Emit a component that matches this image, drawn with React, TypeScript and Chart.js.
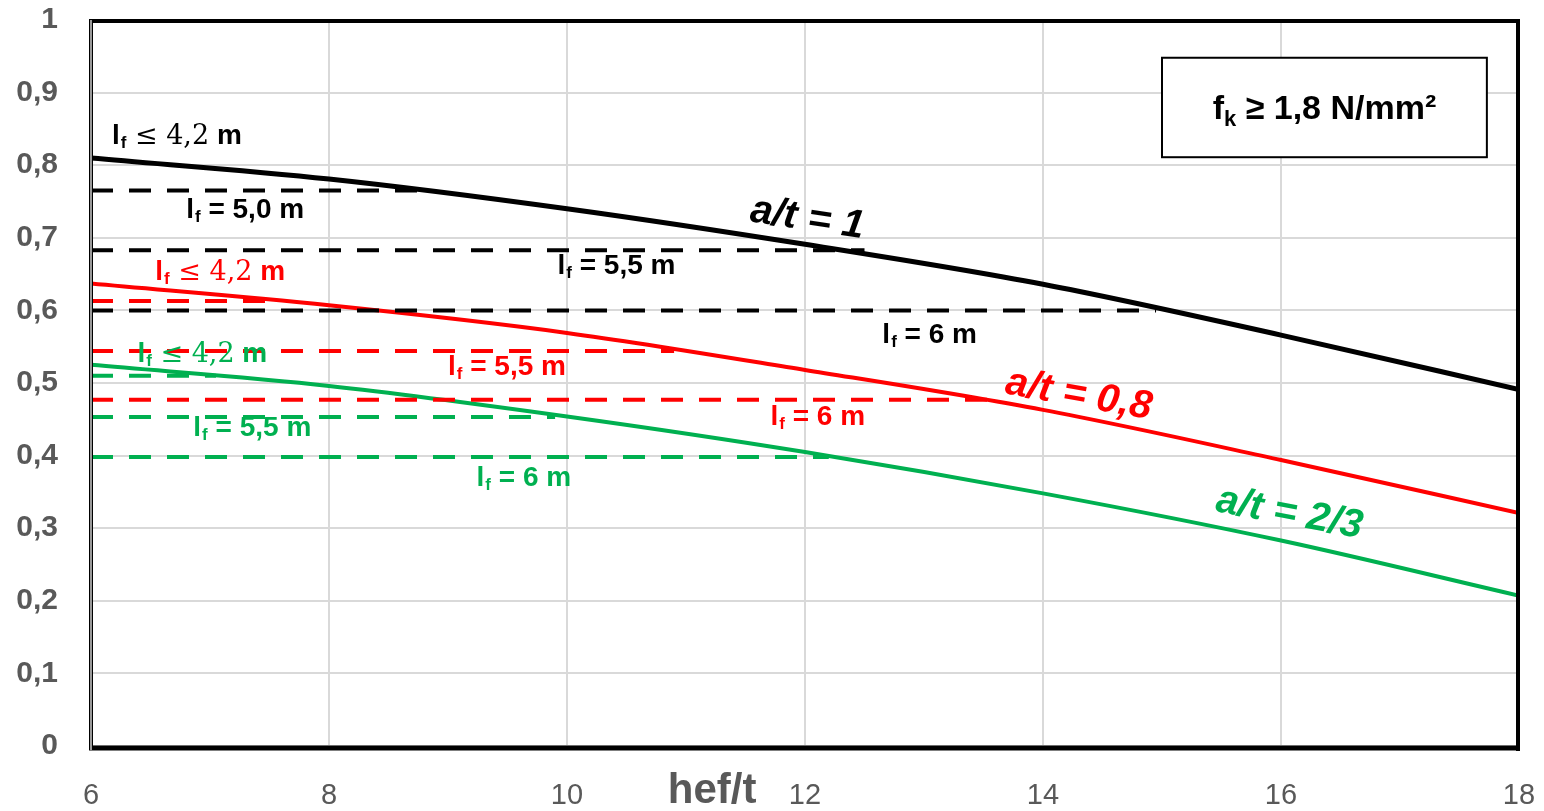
import React, { useEffect, useRef } from 'react';
import { Chart, registerables } from 'chart.js';
Chart.register(...registerables);

// ---- data ----
const hefT = [6, 8, 10, 12, 14, 16, 18];
const curveA1 = [0.81, 0.781, 0.74, 0.691, 0.636, 0.566, 0.491];
const curveA08 = [0.637, 0.607, 0.569, 0.518, 0.463, 0.394, 0.321];
const curveA23 = [0.525, 0.496, 0.454, 0.405, 0.348, 0.283, 0.207];

const blackDashLevels = [0.765, 0.683, 0.6];
const blackDashEnds = [8.8, 12.5, 14.95];
const redDashLevels = [0.613, 0.544, 0.477];
const redDashEnds = [7.55, 10.9, 13.55];
const greenDashLevels = [0.51, 0.453, 0.398];
const greenDashEnds = [7.05, 9.9, 12.2];

const xTickValues = [6, 8, 10, 12, 14, 16, 18];

const BLACK = '#000000';
const RED = '#FF0000';
const GREEN = '#00B050';
const GRAY_TXT = '#595959';

const lfLabelRest = [' ≤ 4,2', ' = 5,0 m', ' = 5,5 m', ' = 6 m', ' ≤ 4,2', ' = 5,5 m', ' = 6 m', ' ≤ 4,2', ' = 5,5 m', ' = 6 m'];
const lfLabelX = [6.176, 6.8, 9.92, 12.65, 6.54, 9.0, 11.71, 6.39, 6.86, 9.24];
const lfLabelY = [0.84, 0.738, 0.661, 0.566, 0.653, 0.521, 0.453, 0.54, 0.438, 0.369];
const lfLabelColor = [BLACK, BLACK, BLACK, BLACK, RED, RED, RED, GREEN, GREEN, GREEN];

const curveLabels = ['a/t = 1', 'a/t = 0,8', 'a/t = 2/3'];
const curveLabelX = [12.02, 14.3, 16.07];
const curveLabelY = [0.726, 0.483, 0.32];
const curveLabelAngle = [8.5, 10, 10.5];
const curveLabelColor = [BLACK, RED, GREEN];

const xAxisTitle = 'hef/t';
const boxText = { main: 'f', sub: 'k', rest: ' ≥ 1,8 N/mm²' };

function dashSet(levels: number[], ends: number[], color: string) {
  return levels.map((lv, i) => ({
    data: [
      { x: 6, y: lv },
      { x: ends[i], y: lv },
    ],
    borderColor: color,
    borderWidth: 4,
    borderDash: [22, 16],
    pointRadius: 0,
    fill: false,
  }));
}

function solidSet(values: number[], color: string, width: number) {
  return {
    data: hefT.map((x, i) => ({ x, y: values[i] })),
    borderColor: color,
    borderWidth: width,
    pointRadius: 0,
    cubicInterpolationMode: 'monotone' as const,
    fill: false,
  };
}

const overlayPlugin = {
  id: 'overlay',
  afterDatasetsDraw(chart: any) {
    const { ctx, chartArea } = chart;
    const xs = chart.scales.x;
    const ys = chart.scales.y;
    const { left, right, top, bottom } = chartArea;
    ctx.save();

    // frame
    ctx.strokeStyle = BLACK;
    ctx.lineCap = 'butt';
    ctx.lineWidth = 4;
    ctx.beginPath();
    ctx.moveTo(left - 2, top + 1);
    ctx.lineTo(right + 1, top + 1);
    ctx.stroke();
    ctx.beginPath();
    ctx.moveTo(right - 1, top - 1);
    ctx.lineTo(right - 1, bottom + 5);
    ctx.stroke();
    ctx.lineWidth = 5;
    ctx.beginPath();
    ctx.moveTo(left - 2, bottom + 2);
    ctx.lineTo(right + 1, bottom + 2);
    ctx.stroke();
    ctx.fillStyle = '#9a9a9a';
    ctx.fillRect(left - 2, top, 4, bottom - top + 4);
    ctx.fillStyle = BLACK;
    ctx.fillRect(left - 2, top, 1, bottom - top + 4);
    ctx.fillRect(left + 1, top, 1, bottom - top + 4);

    // l_f labels
    ctx.textBaseline = 'middle';
    ctx.textAlign = 'left';
    for (let i = 0; i < lfLabelRest.length; i++) {
      const px = xs.getPixelForValue(lfLabelX[i]);
      const py = ys.getPixelForValue(lfLabelY[i]);
      ctx.fillStyle = lfLabelColor[i];
      let cx = px;
      ctx.font = 'bold 28px "Liberation Sans", Arial, sans-serif';
      ctx.fillText('l', cx, py);
      cx += ctx.measureText('l').width + 1;
      ctx.font = 'bold 17px "Liberation Sans", Arial, sans-serif';
      ctx.fillText('f', cx, py + 7);
      cx += ctx.measureText('f').width;
      const rest = lfLabelRest[i];
      if (rest.indexOf('≤') >= 0) {
        ctx.font = '27px "DejaVu Serif", serif';
        ctx.fillText(rest, cx, py + 1);
        cx += ctx.measureText(rest).width;
        ctx.font = 'bold 28px "Liberation Sans", Arial, sans-serif';
        ctx.fillText(' m', cx, py);
      } else {
        ctx.font = 'bold 28px "Liberation Sans", Arial, sans-serif';
        ctx.fillText(rest, cx, py);
      }
    }

    // curve labels
    ctx.textAlign = 'center';
    ctx.textBaseline = 'middle';
    ctx.font = 'italic bold 40px "Liberation Sans", Arial, sans-serif';
    for (let i = 0; i < curveLabels.length; i++) {
      const px = xs.getPixelForValue(curveLabelX[i]);
      const py = ys.getPixelForValue(curveLabelY[i]);
      ctx.save();
      ctx.translate(px, py);
      ctx.rotate((curveLabelAngle[i] * Math.PI) / 180);
      ctx.fillStyle = curveLabelColor[i];
      ctx.fillText(curveLabels[i], 0, 0);
      ctx.restore();
    }

    // box
    const bx1 = xs.getPixelForValue(15.0);
    const bx2 = xs.getPixelForValue(17.73);
    const by1 = ys.getPixelForValue(0.948);
    const by2 = ys.getPixelForValue(0.811);
    ctx.fillStyle = '#ffffff';
    ctx.fillRect(bx1, by1, bx2 - bx1, by2 - by1);
    ctx.strokeStyle = BLACK;
    ctx.lineWidth = 2;
    ctx.strokeRect(bx1, by1, bx2 - bx1, by2 - by1);
    ctx.fillStyle = BLACK;
    ctx.textAlign = 'left';
    ctx.textBaseline = 'alphabetic';
    const fMain = 'bold 34px "Liberation Sans", Arial, sans-serif';
    const fSub = 'bold 22px "Liberation Sans", Arial, sans-serif';
    ctx.font = fMain;
    const w1 = ctx.measureText(boxText.main).width;
    const w3 = ctx.measureText(boxText.rest).width;
    ctx.font = fSub;
    const w2 = ctx.measureText(boxText.sub).width;
    const total = w1 + w2 + w3;
    let tx = (bx1 + bx2) / 2 - total / 2;
    const tb = (by1 + by2) / 2 + 12;
    ctx.font = fMain;
    ctx.fillText(boxText.main, tx, tb);
    tx += w1;
    ctx.font = fSub;
    ctx.fillText(boxText.sub, tx, tb + 7);
    tx += w2;
    ctx.font = fMain;
    ctx.fillText(boxText.rest, tx, tb);

    // x-axis title
    ctx.fillStyle = GRAY_TXT;
    ctx.textAlign = 'center';
    ctx.font = 'bold 42px "Liberation Sans", Arial, sans-serif';
    ctx.fillText(xAxisTitle, xs.getPixelForValue(11.22), bottom + 57);

    ctx.restore();
  },
};

export default function App() {
  const ref = useRef<HTMLCanvasElement | null>(null);
  useEffect(() => {
    if (!ref.current) return;
    const datasets: any[] = [
      ...dashSet(blackDashLevels, blackDashEnds, BLACK),
      ...dashSet(redDashLevels, redDashEnds, RED),
      ...dashSet(greenDashLevels, greenDashEnds, GREEN),
      solidSet(curveA23, GREEN, 4),
      solidSet(curveA08, RED, 4),
      solidSet(curveA1, BLACK, 5),
    ];
    const chart = new Chart(ref.current, {
      type: 'line',
      data: { datasets },
      options: {
        animation: false,
        responsive: false,
        layout: { padding: { left: 0, top: 20, right: 25, bottom: 0 } },
        plugins: { legend: { display: false }, tooltip: { enabled: false } },
        scales: {
          x: {
            type: 'linear',
            min: 6,
            max: 18,
            afterBuildTicks: (scale: any) => {
              scale.ticks = xTickValues.map((v) => ({ value: v }));
            },
            afterFit: (scale: any) => {
              scale.height = 65;
              scale.paddingLeft = 0;
              scale.paddingRight = 0;
            },
            grid: { color: '#D9D9D9', lineWidth: 2, drawTicks: false },
            border: { display: false },
            ticks: {
              padding: 33,
              color: GRAY_TXT,
              font: { family: '"Liberation Sans", Arial, sans-serif', size: 29 },
              callback: (v: any) => String(v),
            },
          },
          y: {
            type: 'linear',
            min: 0,
            max: 1,
            afterFit: (scale: any) => {
              scale.width = 91;
              scale.paddingTop = 0;
              scale.paddingBottom = 0;
            },
            grid: { color: '#D9D9D9', lineWidth: 2, drawTicks: false },
            border: { display: false },
            ticks: {
              stepSize: 0.1,
              padding: 33,
              color: GRAY_TXT,
              font: { family: '"Liberation Sans", Arial, sans-serif', size: 30, weight: 'bold' },
              callback: (v: any) => {
                const n = Math.round(Number(v) * 10) / 10;
                if (n === 0) return '0';
                if (n === 1) return '1';
                return n.toFixed(1).replace('.', ',');
              },
            },
          },
        },
      } as any,
      plugins: [overlayPlugin],
    });
    return () => chart.destroy();
  }, []);
  return (
    <div style={{ position: 'fixed', left: 0, top: 0, width: 1544, height: 811, background: '#fff' }}>
      <canvas ref={ref} width={1544} height={811} />
    </div>
  );
}
